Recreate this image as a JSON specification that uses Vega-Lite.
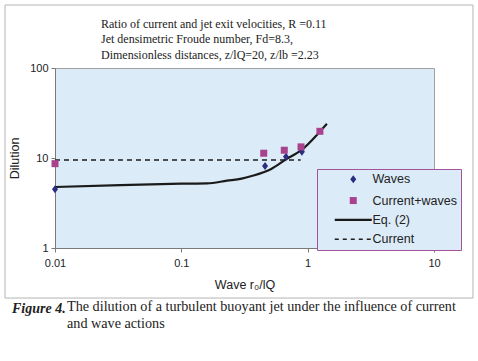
{
  "$schema": "https://vega.github.io/schema/vega-lite/v6.json",
  "padding": {"left": 4, "top": 4, "right": 4, "bottom": 4},
  "background": "white",
  "config": {"view": {"stroke": null}},
  "title": {
    "text": ["The dilution of a turbulent buoyant jet under the influence of current", "and wave actions"],
    "orient": "bottom", "anchor": "start", "frame": "group",
    "font": "Liberation Serif", "fontSize": 14.2, "fontWeight": "normal", "color": "#222",
    "lineHeight": 17, "dx": 12, "dy": -16, "offset": 0
  },
  "vconcat": [
    {
      "title": {
        "text": "Figure 4.", "orient": "bottom", "anchor": "start", "frame": "group",
        "font": "Liberation Serif", "fontSize": 14, "fontStyle": "italic", "fontWeight": "bold", "color": "#222",
        "dx": -43, "offset": 3
      },
      "vconcat": [
        {
          "width": 379,
          "height": 180,
          "view": {"fill": "#dbebf7", "stroke": "#a0a0a0", "strokeWidth": 1},
          "title": {
            "text": [
              "Ratio of current and jet exit velocities, R =0.11",
              "Jet densimetric Froude number, Fd=8.3,",
              "Dimensionless distances, z/lQ=20, z/lb =2.23"
            ],
            "anchor": "start", "frame": "group", "dx": 46, "dy": 57, "offset": 0,
            "font": "Liberation Serif", "fontSize": 12, "fontWeight": "normal", "color": "#222", "lineHeight": 15.3
          },
          "data": {
            "values": [
              {"series": "Waves", "x": 0.01, "y": 4.5},
              {"series": "Waves", "x": 0.46, "y": 8.15},
              {"series": "Waves", "x": 0.674, "y": 10.3},
              {"series": "Waves", "x": 0.9, "y": 11.75},
              {"series": "Current+waves", "x": 0.01, "y": 8.65},
              {"series": "Current+waves", "x": 0.449, "y": 11.3},
              {"series": "Current+waves", "x": 0.653, "y": 12.2},
              {"series": "Current+waves", "x": 0.886, "y": 13.3},
              {"series": "Current+waves", "x": 1.25, "y": 19.8},
              {"series": "Eq. (2)", "x": 0.01, "y": 4.76},
              {"series": "Eq. (2)", "x": 0.033, "y": 5.0},
              {"series": "Eq. (2)", "x": 0.1, "y": 5.18},
              {"series": "Eq. (2)", "x": 0.16, "y": 5.22},
              {"series": "Eq. (2)", "x": 0.23, "y": 5.6},
              {"series": "Eq. (2)", "x": 0.3, "y": 5.9},
              {"series": "Eq. (2)", "x": 0.36, "y": 6.3},
              {"series": "Eq. (2)", "x": 0.51, "y": 7.5},
              {"series": "Eq. (2)", "x": 0.67, "y": 9.6},
              {"series": "Eq. (2)", "x": 0.89, "y": 12.2},
              {"series": "Eq. (2)", "x": 1.24, "y": 19.4},
              {"series": "Eq. (2)", "x": 1.42, "y": 24},
              {"series": "Current", "x": 0.01, "y": 9.5},
              {"series": "Current", "x": 0.88, "y": 9.5}
            ]
          },
          "layer": [
            {
              "data": {"values": [{"frame": "outer"}]},
              "mark": {"type": "rect", "filled": false, "stroke": "#b4b4b4", "strokeWidth": 1, "clip": false},
              "encoding": {
                "x": {"datum": 0.00402, "type": "quantitative", "scale": {"type": "log", "domain": [0.01, 10], "nice": false}},
                "x2": {"datum": 20.36},
                "y": {"datum": 501, "type": "quantitative", "scale": {"type": "log", "domain": [1, 100], "nice": false}},
                "y2": {"datum": 0.278}
              }
            },
            {
              "transform": [{"filter": "datum.series === 'Current'"}],
              "mark": {"type": "line", "color": "#1e1e1e", "strokeWidth": 1.5, "strokeDash": [5, 4]},
              "encoding": {
                "x": {"field": "x", "type": "quantitative", "scale": {"type": "log", "domain": [0.01, 10], "nice": false}},
                "y": {"field": "y", "type": "quantitative", "scale": {"type": "log", "domain": [1, 100], "nice": false}}
              }
            },
            {
              "transform": [{"filter": "datum.series === 'Eq. (2)'"}],
              "mark": {"type": "line", "color": "#1a1a1a", "strokeWidth": 2.2, "interpolate": "monotone"},
              "encoding": {
                "x": {"field": "x", "type": "quantitative", "scale": {"type": "log", "domain": [0.01, 10], "nice": false}},
                "y": {"field": "y", "type": "quantitative", "scale": {"type": "log", "domain": [1, 100], "nice": false}}
              }
            },
            {
              "transform": [{"filter": "datum.series === 'Waves' || datum.series === 'Current+waves'"}],
              "mark": {"type": "point", "filled": true, "opacity": 1, "size": 100, "strokeWidth": 0},
              "encoding": {
                "x": {
                  "field": "x", "type": "quantitative",
                  "scale": {"type": "log", "domain": [0.01, 10], "nice": false},
                  "axis": {
                    "title": "Wave  r₀/lQ", "values": [0.01, 0.1, 1, 10], "format": "~g", "labelFlush": false,
                    "grid": false, "domainColor": "#7a7a7a", "tickColor": "#7a7a7a", "tickSize": 4,
                    "labelFont": "Liberation Sans", "labelFontSize": 11, "labelColor": "#222", "labelPadding": 5,
                    "titleFont": "Liberation Sans", "titleFontSize": 12.5, "titleFontWeight": "normal", "titleColor": "#222", "titlePadding": 10
                  }
                },
                "y": {
                  "field": "y", "type": "quantitative",
                  "scale": {"type": "log", "domain": [1, 100], "nice": false},
                  "axis": {
                    "title": "Dilution", "values": [1, 10, 100], "format": "~g", "labelFlush": false,
                    "grid": false, "domainColor": "#7a7a7a", "tickColor": "#7a7a7a", "tickSize": 4,
                    "labelFont": "Liberation Sans", "labelFontSize": 11, "labelColor": "#222", "labelPadding": 3,
                    "titleFont": "Liberation Sans", "titleFontSize": 12.5, "titleFontWeight": "normal", "titleColor": "#222", "titlePadding": 8
                  }
                },
                "color": {
                  "field": "series", "type": "nominal",
                  "scale": {"domain": ["Waves", "Current+waves", "Eq. (2)", "Current"], "range": ["#2c2c80", "#a8428c", "#1a1a1a", "#1e1e1e"]},
                  "legend": {
                    "orient": "none", "legendX": 262, "legendY": 101, "title": null,
                    "fillColor": "#dbebf7", "strokeColor": "#a4529c", "padding": 4,
                    "symbolSize": 100, "symbolOffset": 26, "labelOffset": 13, "rowPadding": 6.3,
                    "symbolOpacity": 1,
                    "labelFont": "Liberation Sans", "labelFontSize": 12.5, "labelColor": "#222"
                  }
                },
                "shape": {
                  "field": "series", "type": "nominal",
                  "scale": {
                    "domain": ["Waves", "Current+waves", "Eq. (2)", "Current"],
                    "range": [
                      "M0,-0.8L0.6,0L0,0.8L-0.6,0Z",
                      "M-0.7,-0.7H0.7V0.7H-0.7Z",
                      "M-3.7,-0.22H3.7V0.22H-3.7Z",
                      "M-3.7,-0.15H-2.9V0.15H-3.7ZM-2.1,-0.15H-1.3V0.15H-2.1ZM-0.5,-0.15H0.3V0.15H-0.5ZM1.1,-0.15H1.9V0.15H1.1ZM2.7,-0.15H3.5V0.15H2.7Z"
                    ]
                  },
                  "legend": {
                    "orient": "none", "legendX": 262, "legendY": 101, "title": null,
                    "fillColor": "#dbebf7", "strokeColor": "#a4529c", "padding": 4,
                    "symbolSize": 100, "symbolOffset": 26, "labelOffset": 13, "rowPadding": 6.3,
                    "symbolOpacity": 1,
                    "labelFont": "Liberation Sans", "labelFontSize": 12.5, "labelColor": "#222"
                  }
                }
              }
            }
          ]
        }
      ]
    }
  ]
}
